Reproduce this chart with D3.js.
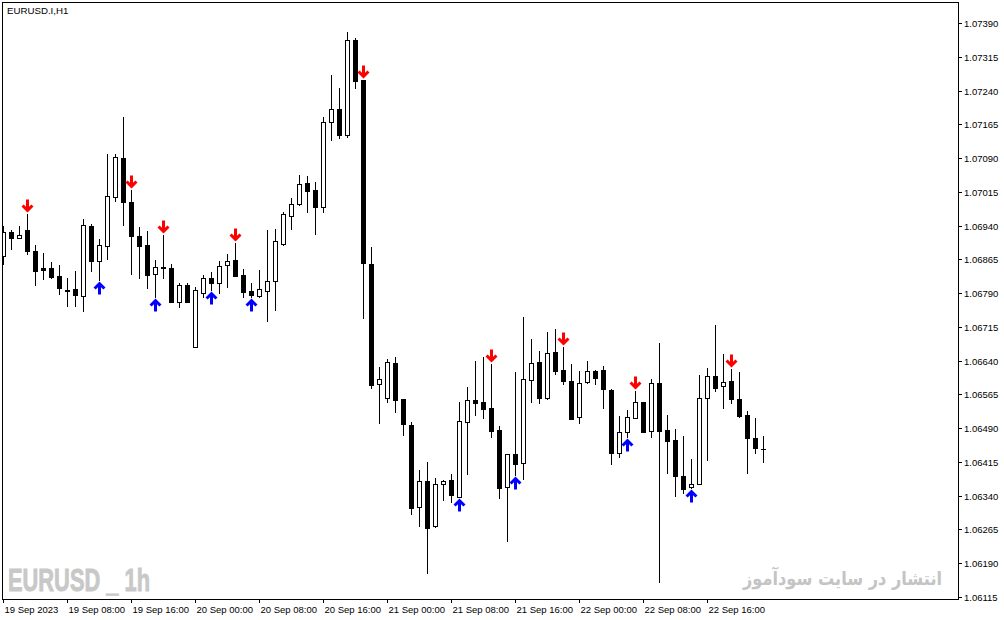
<!DOCTYPE html>
<html><head><meta charset="utf-8">
<script src="https://cdn.jsdelivr.net/npm/d3@7"></script>
<style>
html,body{margin:0;padding:0;background:#fff;}
svg{display:block;}
</style></head><body>
<svg id="c" width="1004" height="620"></svg>
<script>
const symbolTitle = "EURUSD.I,H1";
const startTime = Date.UTC(2023, 8, 19, 0); // first H1 bar
const opens = [1.06872,1.06926,1.06912,1.06930,1.06884,1.06846,1.06846,1.06828,1.06797,1.06799,
1.06784,1.06939,1.06861,1.06895,1.07004,1.07090,1.06992,1.06917,1.06897,1.06832,
1.06848,1.06846,1.06770,1.06808,1.06670,1.06790,1.06824,1.06812,1.06852,1.06864,
1.06830,1.06795,1.06784,1.06795,1.06817,1.06899,1.06961,1.06988,1.07035,1.07019,
1.06981,1.07170,1.07199,1.07141,1.07352,1.07263,1.06855,1.06588,1.06557,1.06635,
1.06555,1.06497,1.06315,1.06373,1.06273,1.06366,1.06375,1.06337,1.06504,1.06553,
1.06548,1.06535,1.06486,1.06359,1.06433,1.06413,1.06597,1.06637,1.06557,1.06659,
1.06619,1.06595,1.06515,1.06593,1.06617,1.06619,1.06575,1.06435,1.06481,1.06513,
1.06548,1.06484,1.06590,1.06486,1.06464,1.06384,1.06359,1.06366,1.06557,1.06606,
1.06584,1.06595,1.06555,1.06519,1.06468,1.06444];
const highs = [1.06939,1.06930,1.06939,1.06966,1.06897,1.06879,1.06859,1.06852,1.06824,1.06839,
1.06955,1.06944,1.06910,1.07099,1.07099,1.07181,1.07019,1.06937,1.06928,1.06864,
1.06919,1.06855,1.06812,1.06812,1.06804,1.06830,1.06837,1.06861,1.06877,1.06901,
1.06844,1.06812,1.06841,1.06930,1.06932,1.06970,1.07001,1.07052,1.07050,1.07037,
1.07181,1.07275,1.07246,1.07370,1.07357,1.07263,1.06892,1.06626,1.06644,1.06648,
1.06555,1.06504,1.06397,1.06415,1.06379,1.06375,1.06388,1.06548,1.06581,1.06639,
1.06648,1.06632,1.06495,1.06433,1.06615,1.06737,1.06688,1.06661,1.06704,1.06710,
1.06670,1.06632,1.06617,1.06639,1.06619,1.06628,1.06577,1.06517,1.06530,1.06573,
1.06548,1.06599,1.06679,1.06519,1.06488,1.06473,1.06421,1.06608,1.06624,1.06719,
1.06655,1.06621,1.06615,1.06528,1.06513,1.06473];
const lows = [1.06855,1.06888,1.06912,1.06877,1.06808,1.06821,1.06824,1.06788,1.06761,1.06761,
1.06750,1.06839,1.06819,1.06866,1.06995,1.06941,1.06832,1.06824,1.06801,1.06781,
1.06824,1.06770,1.06759,1.06770,1.06670,1.06781,1.06797,1.06790,1.06804,1.06828,
1.06781,1.06781,1.06781,1.06728,1.06752,1.06897,1.06932,1.06986,1.06970,1.06921,
1.06970,1.07130,1.07135,1.07137,1.07246,1.06735,1.06579,1.06501,1.06548,1.06526,
1.06475,1.06299,1.06273,1.06168,1.06270,1.06330,1.06326,1.06337,1.06388,1.06519,
1.06513,1.06470,1.06335,1.06239,1.06386,1.06377,1.06548,1.06546,1.06555,1.06610,
1.06588,1.06510,1.06501,1.06590,1.06588,1.06535,1.06410,1.06426,1.06470,1.06513,
1.06481,1.06470,1.06148,1.06390,1.06339,1.06346,1.06357,1.06366,1.06419,1.06573,
1.06535,1.06546,1.06515,1.06390,1.06435,1.06415];
const closes = [1.06926,1.06912,1.06919,1.06884,1.06839,1.06841,1.06826,1.06801,1.06796,1.06786,
1.06941,1.06861,1.06897,1.07006,1.07092,1.06992,1.06917,1.06895,1.06830,1.06848,
1.06846,1.06770,1.06808,1.06770,1.06797,1.06824,1.06812,1.06850,1.06861,1.06828,
1.06792,1.06786,1.06799,1.06817,1.06906,1.06966,1.06988,1.07032,1.07017,1.06981,
1.07170,1.07199,1.07141,1.07352,1.07261,1.06857,1.06586,1.06599,1.06637,1.06553,
1.06499,1.06313,1.06373,1.06268,1.06366,1.06373,1.06342,1.06506,1.06553,1.06546,
1.06533,1.06484,1.06357,1.06433,1.06410,1.06599,1.06635,1.06557,1.06657,1.06617,
1.06595,1.06510,1.06590,1.06617,1.06601,1.06577,1.06435,1.06481,1.06515,1.06548,
1.06481,1.06590,1.06484,1.06461,1.06384,1.06355,1.06366,1.06557,1.06606,1.06579,
1.06593,1.06555,1.06517,1.06468,1.06446,1.06444];
// bar indices carrying indicator arrows
const sellSignals = [3,16,20,29,45,61,70,79,91];
const buySignals = [12,19,26,31,57,64,78,86];
const yTickValues = [1.06115,1.06190,1.06265,1.06340,1.06415,1.06490,1.06565,1.06640,1.06715,
1.06790,1.06865,1.06940,1.07015,1.07090,1.07165,1.07240,1.07315,1.07390];
const xTickLabels = ["19 Sep 2023","19 Sep 08:00","19 Sep 16:00","20 Sep 00:00","20 Sep 08:00",
"20 Sep 16:00","21 Sep 00:00","21 Sep 08:00","21 Sep 16:00","22 Sep 00:00","22 Sep 08:00","22 Sep 16:00"];
const watermarkLeft = "EURUSD _ 1h";
const watermarkRight = "انتشار در سایت سودآموز";

const HOUR = 3600e3;
const n = opens.length;
const bars = d3.range(n).map(i => ({
  i, t: new Date(startTime + i*HOUR), o: opens[i], h: highs[i], l: lows[i], c: closes[i]
}));

const svg = d3.select("#c");
const plotL = 2, plotT = 2, plotR = 958, plotB = 599;

const x = d3.scaleUtc()
  .domain([new Date(startTime), new Date(startTime + n*HOUR)])
  .range([3, 3 + n*8]);
const y = d3.scaleLinear()
  .domain([yTickValues[0], yTickValues[yTickValues.length-1]])
  .range([597, 23])
  .interpolate(d3.interpolateRound);

svg.append("rect").attr("width",1004).attr("height",620).attr("fill","#fff");

const defs = svg.append("defs");
defs.append("clipPath").attr("id","clip").append("rect")
  .attr("x",plotL+1).attr("y",plotT+1).attr("width",plotR-plotL-1).attr("height",plotB-plotT-1);

// watermarks
svg.append("text")
  .attr("x",8).attr("y",591)
  .attr("font-family","'Liberation Sans Narrow','Liberation Sans',Arial,sans-serif")
  .attr("font-weight","bold").attr("font-size",32)
  .attr("fill","#c8c8c8").attr("stroke","#c8c8c8").attr("stroke-width",0.9)
  .attr("textLength",142).attr("lengthAdjust","spacingAndGlyphs")
  .text(watermarkLeft);
svg.append("text")
  .attr("x",842.5).attr("y",585)
  .attr("text-anchor","middle")
  .attr("font-family","'DejaVu Sans',sans-serif")
  .attr("font-weight","bold")
  .attr("font-size",19)
  .attr("fill","#c4c4c4")
  .attr("textLength",199).attr("lengthAdjust","spacingAndGlyphs")
  .text(watermarkRight);

const g = svg.append("g").attr("clip-path","url(#clip)");

bars.forEach(d => {
  const cx = x(d.t) + 0.5;
  const yH = y(d.h), yL = y(d.l), yO = y(d.o), yC = y(d.c);
  g.append("line").attr("x1",cx).attr("x2",cx).attr("y1",yH).attr("y2",yL+1)
    .attr("stroke","#000").attr("stroke-width",1);
  if (d.c > d.o) {
    const top = yC, bot = yO;
    g.append("rect").attr("x",cx-2).attr("y",top+0.5).attr("width",4).attr("height",Math.max(bot-top,1))
      .attr("fill","#fff").attr("stroke","#000").attr("stroke-width",1);
  } else if (d.c < d.o) {
    const top = yO, bot = yC;
    g.append("rect").attr("x",cx-2.5).attr("y",top).attr("width",5).attr("height",Math.max(bot-top+1,2))
      .attr("fill","#000");
  } else {
    g.append("line").attr("x1",cx-2.5).attr("x2",cx+2.5).attr("y1",yO+0.5).attr("y2",yO+0.5)
      .attr("stroke","#000").attr("stroke-width",1);
  }
});

// arrows (tip at (0,0), drawn pointing down; mirrored for up)
const arrowShape = [[0,0],[6,-6],[3.9,-8.1],[1.5,-5.7],[1.5,-13],[-1.5,-13],[-1.5,-5.7],[-3.9,-8.1],[-6,-6]];
function drawArrow(cx, tip, dir, color) {
  const pts = arrowShape.map(([px,py]) => [cx + px, tip + dir*py]);
  g.append("path")
    .attr("d", d3.line()(pts) + "Z")
    .attr("fill", color);
}
sellSignals.forEach(i => {
  const d = bars[i];
  drawArrow(x(d.t)+0.5, y(d.h)-1.5, 1, "#ff0000");
});
buySignals.forEach(i => {
  const d = bars[i];
  drawArrow(x(d.t)+0.5, y(d.l)+1.5, -1, "#0000ff");
});

// frame
svg.append("rect").attr("x",plotL+0.5).attr("y",plotT+0.5)
  .attr("width",plotR-plotL).attr("height",plotB-plotT)
  .attr("fill","none").attr("stroke","#000").attr("stroke-width",1);

const axisFont = "'Liberation Sans',Arial,sans-serif";
// x axis
const xTickValues = xTickLabels.map((_,k) => new Date(startTime + k*8*HOUR));
const xAxis = d3.axisBottom(x).tickValues(xTickValues)
  .tickFormat((d,k) => xTickLabels[k]).tickSize(4).tickPadding(3);
const gx = svg.append("g").attr("transform",`translate(0,${plotB})`).call(xAxis);
gx.select(".domain").remove();
gx.selectAll("line").attr("stroke","#000");
gx.selectAll("text").attr("text-anchor","start").attr("x",1)
  .attr("font-family",axisFont).attr("font-size",9.5).attr("fill","#000");

// y axis
const yAxis = d3.axisRight(y).tickValues(yTickValues)
  .tickFormat(d3.format(".5f")).tickSize(4).tickPadding(2);
const gy = svg.append("g").attr("transform",`translate(${plotR},0)`).call(yAxis);
gy.select(".domain").remove();
gy.selectAll("line").attr("stroke","#000");
gy.selectAll("text").attr("font-family",axisFont).attr("font-size",9.5).attr("fill","#000");

// title
svg.append("text").attr("x",7).attr("y",14)
  .attr("font-family",axisFont).attr("font-size",9.7).attr("fill","#000")
  .text(symbolTitle);
</script>
</body></html>
